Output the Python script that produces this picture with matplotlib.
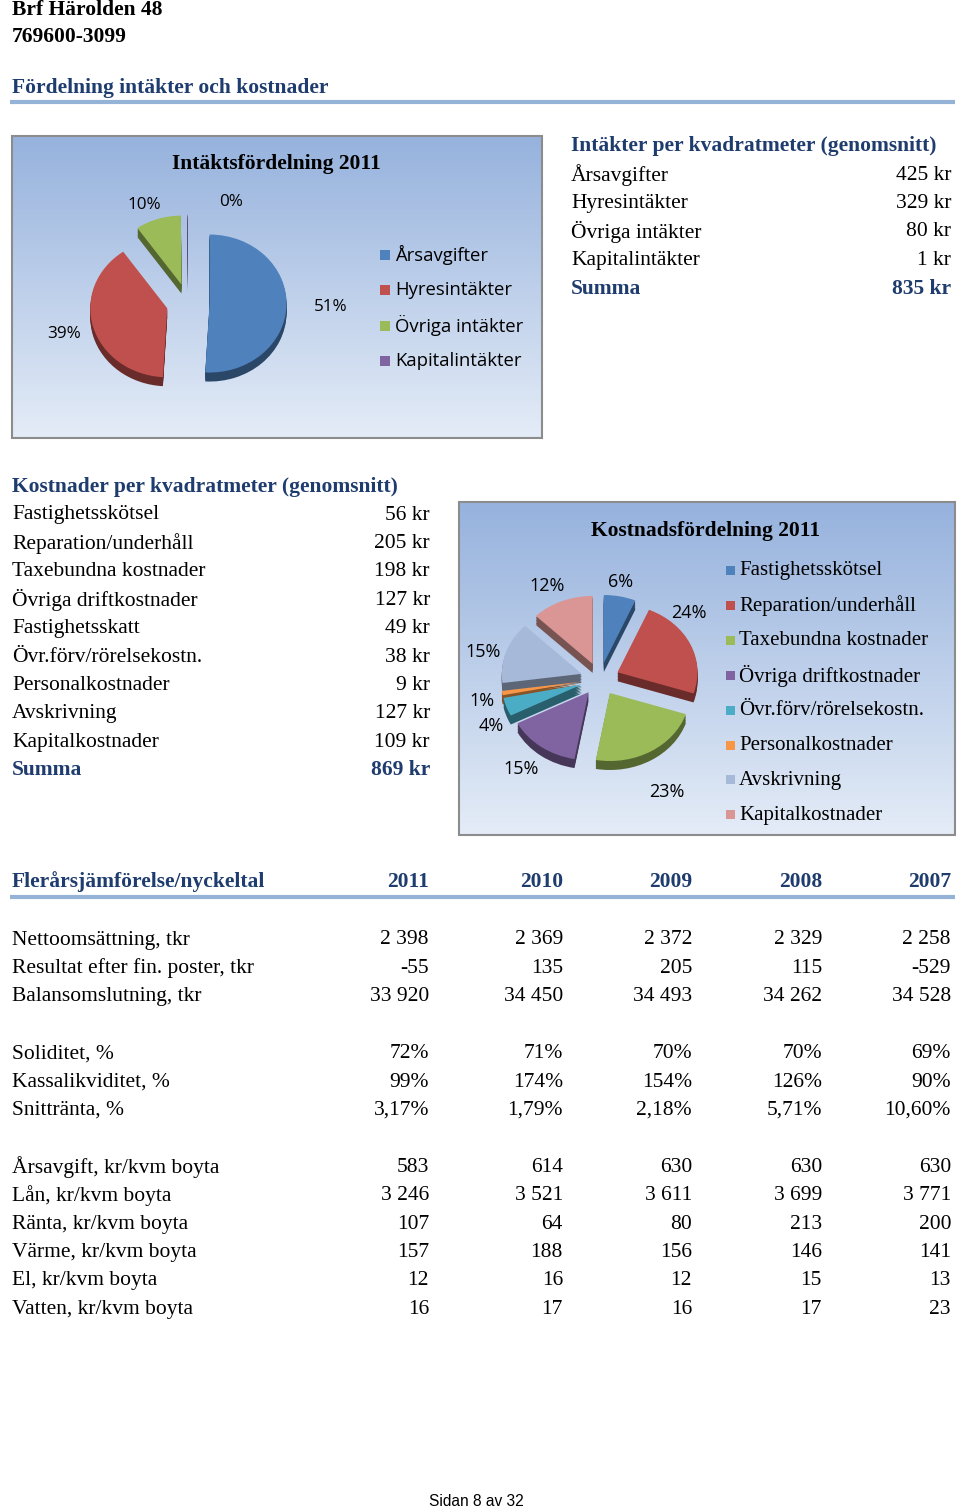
import numpy as np
import matplotlib
matplotlib.use('Agg')
import matplotlib.pyplot as plt
from matplotlib.patches import Rectangle

# ---- data ----
inc_labels = ['Årsavgifter', 'Hyresintäkter', 'Övriga intäkter', 'Kapitalintäkter']
inc_values = [425, 329, 80, 1]
inc_pct = ['51%', '39%', '10%', '0%']

cost_table_labels = ['Fastighetsskötsel', 'Reparation/underhåll', 'Taxebundna kostnader',
                     'Övriga driftkostnader', 'Fastighetsskatt', 'Övr.förv/rörelsekostn.',
                     'Personalkostnader', 'Avskrivning', 'Kapitalkostnader']
cost_table_values = [56, 205, 198, 127, 49, 38, 9, 127, 109]
cost_sum = 869
inc_sum = 835

pie_cost_labels = ['Fastighetsskötsel', 'Reparation/underhåll', 'Taxebundna kostnader',
                   'Övriga driftkostnader', 'Övr.förv/rörelsekostn.', 'Personalkostnader',
                   'Avskrivning', 'Kapitalkostnader']
pie_cost_values = [56, 205, 198, 127, 38, 9, 127, 109]
cost_pct = ['6%', '24%', '23%', '15%', '4%', '1%', '15%', '12%']

years = ['2011', '2010', '2009', '2008', '2007']
row_labels = ['Nettoomsättning, tkr', 'Resultat efter fin. poster, tkr', 'Balansomslutning, tkr',
              None,
              'Soliditet, %', 'Kassalikviditet, %', 'Snittränta, %',
              None,
              'Årsavgift, kr/kvm boyta', 'Lån, kr/kvm boyta', 'Ränta, kr/kvm boyta',
              'Värme, kr/kvm boyta', 'El, kr/kvm boyta', 'Vatten, kr/kvm boyta']
nettoomsattning = [2398, 2369, 2372, 2329, 2258]
resultat = [-55, 135, 205, 115, -529]
balans = [33920, 34450, 34493, 34262, 34528]
soliditet = [72, 71, 70, 70, 69]
kassalikviditet = [99, 174, 154, 126, 90]
snittranta = [3.17, 1.79, 2.18, 5.71, 10.60]
arsavgift = [583, 614, 630, 630, 630]
lan = [3246, 3521, 3611, 3699, 3771]
ranta = [107, 64, 80, 213, 200]
varme = [157, 188, 156, 146, 141]
el = [12, 16, 12, 15, 13]
vatten = [16, 17, 16, 17, 23]


def fmt_int(v):
    return f'{v:,}'.replace(',', ' ')


def fmt_pct(v):
    return f'{v}%'


def fmt_dec(v):
    return f'{v:.2f}%'.replace('.', ',')


rows = [(nettoomsattning, fmt_int), (resultat, fmt_int), (balans, fmt_int), None,
        (soliditet, fmt_pct), (kassalikviditet, fmt_pct), (snittranta, fmt_dec), None,
        (arsavgift, fmt_int), (lan, fmt_int), (ranta, fmt_int), (varme, fmt_int),
        (el, fmt_int), (vatten, fmt_int)]

# ---- style ----
W, H = 960, 1510
SERIF = 'Liberation Serif'
SANS = 'Open Sans'
HEAD = '#1F3C6E'
LINE = '#95B3D7'
FS = 15.5
inc_colors = ['#4F81BD', '#C0504D', '#9BBB59', '#8064A2']
cost_colors = ['#4F81BD', '#C0504D', '#9BBB59', '#8064A2', '#4BACC6', '#F79646', '#A7B9D9', '#D99694']

fig = plt.figure(figsize=(W / 100, H / 100), dpi=100)
page = fig.add_axes([0, 0, 1, 1])
page.set_xlim(0, W)
page.set_ylim(H, 0)
page.axis('off')


def txt(x, y, s, size=FS, ha='left', color='black', weight='normal', family=SERIF, ax=page):
    ax.text(x, y, s, fontsize=size, ha=ha, va='center', color=color,
            fontweight=weight, family=family)


def gradient_box(x0, y0, x1, y1):
    grad = np.linspace(0, 1, 256)[:, None]
    top = np.array([150, 178, 221]) / 255
    bot = np.array([228, 236, 247]) / 255
    img = top[None, None, :] * (1 - grad[:, :, None]) + bot[None, None, :] * grad[:, :, None]
    page.imshow(img, extent=(x0, x1, y1, y0), aspect='auto', zorder=0)
    page.add_patch(Rectangle((x0, y0), x1 - x0, y1 - y0, fill=False,
                             edgecolor='#8C8C8C', lw=1.5, zorder=1))


def darker(c, f=0.55):
    rgb = np.array(matplotlib.colors.to_rgb(c))
    return tuple(rgb * f)


def pie_3d(cx, cy, rx, ry, values, colors, explode, depth, pct, lab_pos, fsize):
    # axis in pixel box, data units of rx / ry
    lim = 2.2
    ax = fig.add_axes([(cx - lim * rx) / W, 1 - (cy + lim * ry) / H,
                       2 * lim * rx / W, 2 * lim * ry / H])
    ex = [explode] * len(values)
    d = depth / ry
    for k in range(6, 0, -1):
        ax.pie(values, colors=[darker(c) for c in colors], startangle=90, counterclock=False,
               explode=ex, center=(0, -d * k / 6), wedgeprops=dict(linewidth=0))
    wedges, _ = ax.pie(values, colors=colors, startangle=90, counterclock=False,
                       explode=ex, wedgeprops=dict(linewidth=0))
    for w, p, (dist, dang) in zip(wedges, pct, lab_pos):
        th = np.deg2rad((w.theta1 + w.theta2) / 2 + dang)
        ax.text(dist * np.cos(th), dist * np.sin(th), p, ha='center', va='center',
                fontsize=fsize, family=SANS)
    ax.set_aspect('auto')
    ax.set_xlim(-lim, lim)
    ax.set_ylim(-lim, lim)
    ax.axis('off')
    return ax


# ---- header ----
txt(12, 10, 'Brf Härolden 48', weight='bold')
txt(12, 37, '769600-3099', weight='bold')
txt(12, 88, 'Fördelning intäkter och kostnader', weight='bold', color=HEAD)
page.plot([10, 955], [102, 102], color=LINE, lw=3, solid_capstyle='butt')

# ---- income pie ----
gradient_box(12, 136, 542, 438)
txt(276, 164, 'Intäktsfördelning 2011', weight='bold', ha='center')
pie_3d(188, 303, 77, 69, inc_values, inc_colors, 0.28, 9, inc_pct,
       [(1.85, 0), (1.67, 0), (1.53, 4), (1.56, -21)], 12.3)
for i, lab in enumerate(inc_labels):
    y = 255 + i * 35.3
    page.add_patch(Rectangle((380, y - 5), 10, 10, color=inc_colors[i], lw=0))
    txt(395, y, lab, size=13.3, family=SANS)

# ---- income table ----
txt(571, 146, 'Intäkter per kvadratmeter (genomsnitt)', weight='bold', color=HEAD)
for i, (lab, v) in enumerate(zip(inc_labels, inc_values)):
    y = 175 + i * 28.5
    txt(571, y, lab)
    txt(951, y, f'{v} kr', ha='right')
txt(571, 289, 'Summa', weight='bold', color=HEAD)
txt(951, 289, f'{inc_sum} kr', weight='bold', color=HEAD, ha='right')

# ---- cost table ----
txt(12, 487, 'Kostnader per kvadratmeter (genomsnitt)', weight='bold', color=HEAD)
for i, (lab, v) in enumerate(zip(cost_table_labels, cost_table_values)):
    y = 515 + i * 28.4
    txt(12, y, lab)
    txt(430, y, f'{v} kr', ha='right')
txt(12, 770, 'Summa', weight='bold', color=HEAD)
txt(430, 770, f'{cost_sum} kr', weight='bold', color=HEAD, ha='right')

# ---- cost pie ----
gradient_box(459, 502, 955, 835)
txt(706, 531, 'Kostnadsfördelning 2011', weight='bold', ha='center')
pie_3d(600, 679, 80, 68, pie_cost_values, cost_colors, 0.24, 9, cost_pct,
       [(1.45, 1.6), (1.48, 17), (1.86, -4), (1.65, 0), (1.53, 7.6), (1.51, 3),
        (1.51, 3.4), (1.52, 3.3)], 13)
for i, lab in enumerate(pie_cost_labels):
    y = 571 + i * 34.9
    page.add_patch(Rectangle((726, y - 5), 9, 9, color=cost_colors[i], lw=0))
    txt(739, y, lab, size=15)

# ---- multi-year table ----
col_x = [429, 563, 692, 822, 951]
txt(12, 882, 'Flerårsjämförelse/nyckeltal', weight='bold', color=HEAD)
for x, yr in zip(col_x, years):
    txt(x, 882, yr, weight='bold', color=HEAD, ha='right')
page.plot([10, 955], [897, 897], color=LINE, lw=3, solid_capstyle='butt')

y = 940
for lab, row in zip(row_labels, rows):
    if row is None:
        y += 28.4
        continue
    vals, f = row
    txt(12, y, lab)
    for x, v in zip(col_x, vals):
        txt(x, y, f(v), ha='right')
    y += 28.4

# ---- footer ----
txt(476, 1502, 'Sidan 8 av 32', size=11.2, family='Liberation Sans', ha='center')

fig.savefig('out.png', dpi=100)
